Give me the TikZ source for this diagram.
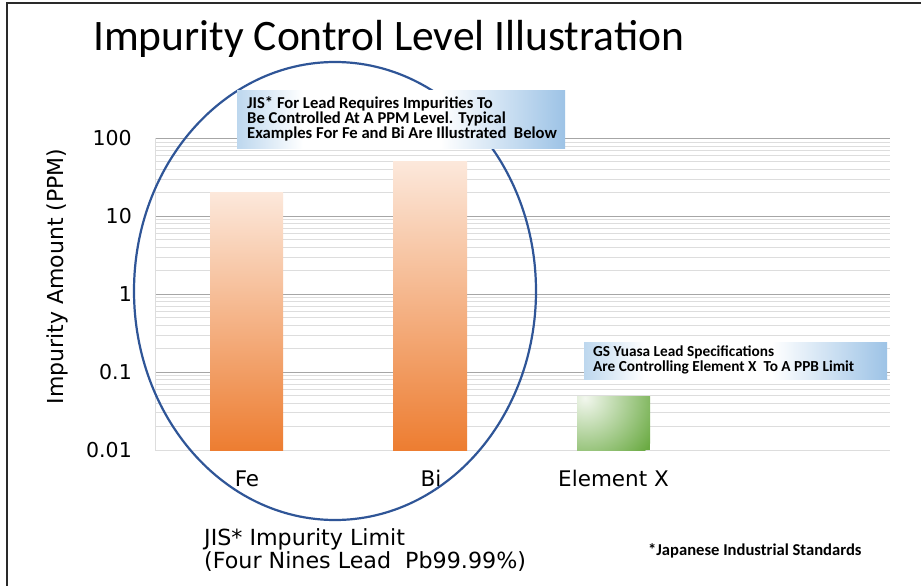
\documentclass[tikz,border=0pt]{standalone}
\usepackage{fontspec}
\setmainfont{Carlito}
\newfontfamily\chartfont{DejaVu Sans}

\definecolor{framegray}{HTML}{2A2A2A}
\definecolor{majorgrid}{HTML}{A6A6A6}
\definecolor{minorgrid}{HTML}{DDDDDD}
\definecolor{orangetop}{HTML}{FCE8DB}
\definecolor{orangebot}{HTML}{ED7D31}
\definecolor{greentop}{HTML}{F2F7EE}
\definecolor{greenbot}{HTML}{6AAA42}
\definecolor{ringblue}{HTML}{2F5597}
\definecolor{calloutL}{HTML}{BDD7EE}
\definecolor{calloutR}{HTML}{9DC3E6}

% callout fill: blue at both ends, white in the middle
\pgfdeclarehorizontalshading{calloutshade}{100bp}{%
  color(0bp)=(calloutL); color(25bp)=(calloutL);
  color(35bp)=(white); color(56bp)=(white);
  color(75bp)=(calloutR); color(100bp)=(calloutR)}

\tikzset{
  minorline/.style={draw=minorgrid, line width=0.8pt},
  majorline/.style={draw=majorgrid, line width=1pt},
  ticklabel/.style={font=\chartfont\fontsize{20.5}{20.5}\selectfont, anchor=east, inner sep=0pt},
  catlabel/.style={font=\chartfont\fontsize{21.5}{21.5}\selectfont, anchor=base, inner sep=0pt},
  calloutbox/.style={shading=calloutshade},
  calloutA/.style={font=\bfseries\fontsize{16.6}{16.6}\selectfont, anchor=base west, inner sep=0pt},
  calloutB/.style={font=\bfseries\fontsize{15.3}{15.3}\selectfont, anchor=base west, inner sep=0pt},
  jislabel/.style={font=\chartfont\fontsize{22.2}{22.2}\selectfont, anchor=base west, inner sep=0pt},
}

\begin{document}
\begin{tikzpicture}[x=1pt,y=-1pt]
\useasboundingbox (0,0) rectangle (921,586);
\fill[white] (0,0) rectangle (921,586);

% frame (top and left edges)
\draw[framegray, line width=2.6pt] (7,590) -- (7,3) -- (925,3);

% title
\node[anchor=base west, inner sep=0pt, font=\fontsize{43.5}{43.5}\selectfont] (title) at (93,51) {Impurity Control Level Illustration};

% logarithmic grid, 0.01 ... 100 ppm, 77.9 pt per decade
\foreach \d in {0,...,3}{
  \foreach \k in {2,...,9}{
    \draw[minorline] (155,{450-77.9*(\d+log10(\k))}) -- (890,{450-77.9*(\d+log10(\k))});
  }
}
\foreach \d in {1,...,4}{
  \draw[majorline] (155,{450-77.9*\d}) -- (890,{450-77.9*\d});
}
\draw[minorline] (155,450) -- (890,450);
\draw[minorline] (155,450) -- (155,138.4);

% tick labels
\node[ticklabel] (t100) at (132,138.4) {100};
\node[ticklabel] (t10)  at (132,216.3) {10};
\node[ticklabel] (t1)   at (132,294.2) {1};
\node[ticklabel] (t01)  at (132,372.1) {0.1};
\node[ticklabel] (t001) at (132,450.5) {0.01};

% axis title
\node[rotate=90, inner sep=0pt, font=\chartfont\fontsize{22}{22}\selectfont] (ytitle) at (57,276.5) {Impurity Amount (PPM)};

% bars
\shade[top color=orangetop, bottom color=orangebot] (210,192.6) rectangle (283,450);
\shade[top color=orangetop, bottom color=orangebot] (393,161.5) rectangle (467,450);
\begin{scope}
  \clip (577,396) rectangle (650,450);
  \fill[greenbot] (577,396) rectangle (650,450);
  \shade[inner color=greentop, outer color=greenbot] (585,398) circle [radius=80pt];
\end{scope}

% category labels
\node[catlabel] (fe) at (247,486) {Fe};
\node[catlabel] (bi) at (431,486) {Bi};
\node[catlabel] (ex) at (613.5,486) {Element X};

% ring around the JIS elements
\draw[ringblue, line width=2.2pt] (335,291) ellipse [x radius=201pt, y radius=229pt];

% callout for the JIS elements
\shade[calloutbox] (237,90.7) rectangle (565,148);
\node[calloutA] (ca1) at (247,108.3) {JIS* For Lead Requires Impurities To};
\node[calloutA] (ca2) at (247,123.6) {Be Controlled At A PPM Level. Typical};
\node[calloutA] (ca3) at (247,138.6) {Examples For Fe and Bi Are Illustrated\ \ Below};

% callout for element X
\shade[calloutbox] (584,342) rectangle (887,379.5);
\node[calloutB] (cb1) at (593,356.6) {GS Yuasa Lead Specifications};
\node[calloutB] (cb2) at (593,371.3) {Are Controlling Element X\ \ To A PPB Limit};

% bottom notes
\node[jislabel] (jis1) at (204,545.5) {JIS* Impurity Limit};
\node[jislabel] (jis2) at (204,568.5) {(Four Nines Lead\ \ Pb99.99\%)};
\node[anchor=base west, inner sep=0pt, font=\bfseries\fontsize{16.6}{16.6}\selectfont] (note) at (648,555) {*Japanese Industrial Standards};
\end{tikzpicture}
\end{document}
